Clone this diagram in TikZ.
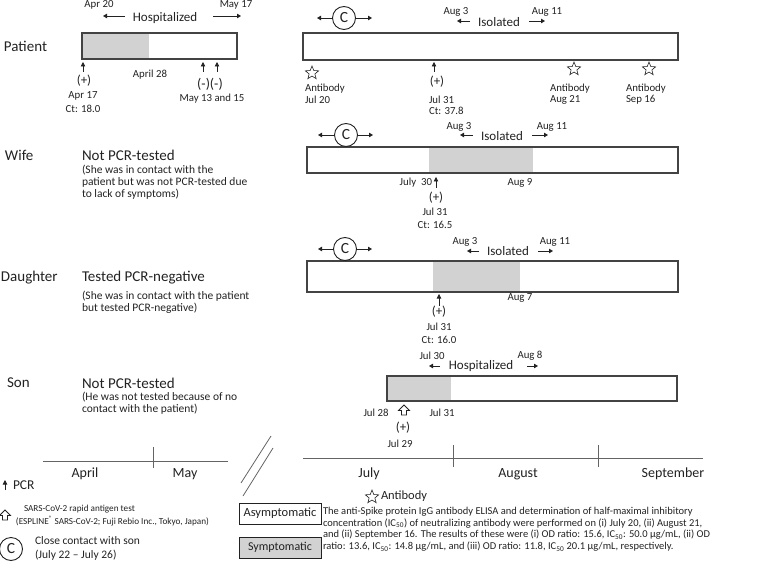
\documentclass[tikz,border=0pt]{standalone}
\usepackage{fontspec}
\setmainfont{Carlito}
\usetikzlibrary{arrows.meta,shapes.geometric}
\definecolor{ink}{HTML}{222222}
\definecolor{gfill}{HTML}{D2D2D2}
\begin{document}
\begin{tikzpicture}[x=1pt,y=-1pt,
 every node/.style={inner sep=0pt, outer sep=0pt, text=ink},
 big/.style={font=\fontsize{15}{17}\selectfont},
 mid/.style={font=\fontsize{13}{15}\selectfont},
 mon/.style={font=\fontsize{14}{15}\selectfont},
 sml/.style={font=\fontsize{10.8}{12}\selectfont},
 note/.style={font=\fontsize{11.5}{11.8}\selectfont, align=left, anchor=north west},
 bar/.style={draw=ink!85, line width=1.1pt},
 arr/.style={-{Triangle[length=4pt,width=4.5pt]}, line width=0.9pt, draw=ink},
 pcr/.style={-{Triangle[length=4.5pt,width=4.5pt]}, line width=0.8pt, draw=ink},
 cc/.style={circle, draw=ink, line width=0.9pt, minimum size=23pt, font=\fontsize{15.5}{15.5}\selectfont},
 star5/.style={star, star points=5, star point ratio=2.3, draw=ink, line width=0.6pt, minimum size=14pt},
 axis/.style={draw=ink!70, line width=0.8pt},
 hollow/.style={draw=ink, line width=0.8pt, fill=white, line join=miter}]
\useasboundingbox (0,0) rectangle (762,561);

% ---------------- Patient ----------------
\node[big, anchor=west] (patient) at (4,46) {Patient};
\fill[gfill] (82,33) rectangle (149,59);
\draw[bar] (82,33) rectangle (237,59);
\node[sml] (apr20) at (99,5) {Apr 20};
\node[mid] (hosp1) at (165,18) {Hospitalized};
\node[sml] (may17) at (236,5) {May 17};
\coordinate (h1a) at (125,16); \coordinate (h1b) at (103,16);
\coordinate (h1c) at (213,16); \coordinate (h1d) at (241,16);
\draw[arr] (h1a) -- (h1b);
\draw[arr] (h1c) -- (h1d);
\coordinate (p1a) at (83,72); \coordinate (p1b) at (83,62);
\draw[pcr] (p1a) -- (p1b);
\node[mid] (pplus1) at (84,81) {(+)};
\node[sml] (apr17) at (83,96) {Apr 17};
\node[sml] (ct18) at (83,109) {Ct: 18.0};
\node[sml] (apr28) at (150,75) {April 28};
\coordinate (p2a) at (203,72); \coordinate (p2b) at (203,62);
\coordinate (p3a) at (217,72); \coordinate (p3b) at (217,62);
\draw[pcr] (p2a) -- (p2b);
\draw[pcr] (p3a) -- (p3b);
\node[font=\fontsize{14}{15}\selectfont] (minus) at (210,84) {(-)(-)};
\node[sml] (may13) at (212,99) {May 13 and 15};

\draw[bar] (303,33) rectangle (678,60);
\node[cc] (c1) at (344,18) {C};
\coordinate (c1l) at (317,18); \coordinate (c1r) at (372,18);
\draw[arr] (c1.west) -- (c1l);
\draw[arr] (c1.east) -- (c1r);
\node[sml] (aug3a) at (456,12) {Aug 3};
\node[mid] (iso1) at (499,22) {Isolated};
\node[sml] (aug11a) at (547,12) {Aug 11};
\coordinate (i1a) at (470,21); \coordinate (i1b) at (457,21);
\coordinate (i1c) at (529,21); \coordinate (i1d) at (545,21);
\draw[arr] (i1a) -- (i1b);
\draw[arr] (i1c) -- (i1d);
\node[star5] (s1) at (312,73) {};
\node[sml, anchor=west] (ab1) at (305,89) {Antibody};
\node[sml, anchor=west] (jul20) at (305,100) {Jul 20};
\node[star5] (s2) at (574,69) {};
\node[sml, anchor=west] (ab2) at (550,89) {Antibody};
\node[sml, anchor=west] (aug21) at (550,100) {Aug 21};
\node[star5] (s3) at (649,69) {};
\node[sml, anchor=west] (ab3) at (626,89) {Antibody};
\node[sml, anchor=west] (sep16) at (626,100) {Sep 16};
\coordinate (p4a) at (434,72); \coordinate (p4b) at (434,62);
\draw[pcr] (p4a) -- (p4b);
\node[mid] (pplus2) at (437,82) {(+)};
\node[sml, anchor=west] (jul31a) at (429,100) {Jul 31};
\node[sml, anchor=west] (ct378) at (429,111) {Ct: 37.8};

% ---------------- Wife ----------------
\node[big, anchor=west] (wife) at (5,155) {Wife};
\node[big, anchor=west] (wifet) at (82,155) {Not PCR-tested};
\node[note] (wifen) at (82,165) {(She was in contact with the\\patient but was not PCR-tested due\\to lack of symptoms)};
\fill[gfill] (429,147) rectangle (533,173);
\draw[bar] (307,147) rectangle (678,173);
\node[cc] (c2) at (346,135) {C};
\coordinate (c2l) at (318,135); \coordinate (c2r) at (373,135);
\draw[arr] (c2.west) -- (c2l);
\draw[arr] (c2.east) -- (c2r);
\node[sml] (aug3b) at (459,127) {Aug 3};
\node[mid] (iso2) at (502,136) {Isolated};
\node[sml] (aug11b) at (552,127) {Aug 11};
\coordinate (i2a) at (473,135); \coordinate (i2b) at (460,135);
\coordinate (i2c) at (532,135); \coordinate (i2d) at (548,135);
\draw[arr] (i2a) -- (i2b);
\draw[arr] (i2c) -- (i2d);
\node[sml, anchor=east] (jul30a) at (432,183) {July\ \ 30};
\coordinate (p5a) at (436,188); \coordinate (p5b) at (436,177);
\draw[pcr] (p5a) -- (p5b);
\node[mid] (pplus3) at (436,198) {(+)};
\node[sml] (jul31b) at (435,212) {Jul 31};
\node[sml] (ct165) at (435,225) {Ct: 16.5};
\node[sml] (aug9) at (520,183) {Aug 9};

% ---------------- Daughter ----------------
\node[big, anchor=west] (daughter) at (1,278) {Daughter};
\node[big, anchor=west] (dat) at (82,278) {Tested PCR-negative};
\node[note] (datn) at (82,291) {(She was in contact with the patient\\but tested PCR-negative)};
\fill[gfill] (433,261) rectangle (520,292);
\draw[bar] (307,261) rectangle (678,292);
\node[cc] (c3) at (345,249) {C};
\coordinate (c3l) at (318,249); \coordinate (c3r) at (372,249);
\draw[arr] (c3.west) -- (c3l);
\draw[arr] (c3.east) -- (c3r);
\node[sml] (aug3c) at (465,242) {Aug 3};
\node[mid] (iso3) at (508,251) {Isolated};
\node[sml] (aug11c) at (555,242) {Aug 11};
\coordinate (i3a) at (479,251); \coordinate (i3b) at (467,251);
\coordinate (i3c) at (538,251); \coordinate (i3d) at (553,251);
\draw[arr] (i3a) -- (i3b);
\draw[arr] (i3c) -- (i3d);
\node[sml] (aug7) at (520,298) {Aug 7};
\coordinate (p6a) at (439,306); \coordinate (p6b) at (439,294);
\draw[pcr] (p6a) -- (p6b);
\node[mid] (pplus4) at (439,312) {(+)};
\node[sml] (jul31c) at (439,327) {Jul 31};
\node[sml] (ct160) at (439,340) {Ct: 16.0};

% ---------------- Son ----------------
\node[big, anchor=west] (son) at (7,383) {Son};
\node[big, anchor=west] (sont) at (82,383) {Not PCR-tested};
\node[note] (sonn) at (82,392) {(He was not tested because of no\\contact with the patient)};
\fill[gfill] (387,376) rectangle (451,401);
\draw[bar] (387,376) rectangle (677,401);
\node[sml] (jul30b) at (432,356) {Jul 30};
\node[mid] (hosp2) at (481,366) {Hospitalized};
\node[sml] (aug8) at (530,356) {Aug 8};
\coordinate (h2a) at (440,366); \coordinate (h2b) at (429,366);
\coordinate (h2c) at (527,366); \coordinate (h2d) at (538,366);
\draw[arr] (h2a) -- (h2b);
\draw[arr] (h2c) -- (h2d);
\node[sml] (jul28) at (376,413) {Jul 28};
\node[sml] (jul31d) at (442,413) {Jul 31};
\draw[hollow] (404,405) -- (409.5,410.5) -- (406.5,410.5) -- (406.5,415) -- (401.5,415) -- (401.5,410.5) -- (398.5,410.5) -- cycle;
\node[mid] (pplus5) at (403,428) {(+)};
\node[sml] (jul29) at (400,444) {Jul 29};

% ---------------- Axes ----------------
\draw[axis] (43,461) -- (228,461);
\draw[axis] (153,447) -- (153,468);
\node[mon] (april) at (85,474) {April};
\node[mon] (may) at (185,474) {May};
\draw[axis] (241,483) -- (271,436);
\draw[axis] (243,496) -- (273,448);
\draw[axis] (303,458) -- (703,458);
\draw[axis] (453,445) -- (453,467);
\draw[axis] (598,445) -- (598,467);
\node[mon] (july) at (369,474) {July};
\node[mon] (august) at (518,474) {August};
\node[mon] (september) at (673,474) {September};

% ---------------- Legend ----------------
\coordinate (lpa) at (5,490); \coordinate (lpb) at (5,480);
\draw[pcr] (lpa) -- (lpb);
\node[font=\fontsize{13.5}{15}\selectfont, anchor=west] (lpcr) at (13,485) {PCR};
\draw[hollow] (5,510) -- (10.5,515.5) -- (7.5,515.5) -- (7.5,520) -- (2.5,520) -- (2.5,515.5) -- (-0.5,515.5) -- cycle;
\node[font=\fontsize{9.2}{10}\selectfont, anchor=west] (sars) at (24,509) {SARS-CoV-2 rapid antigen test};
\node[font=\fontsize{9.2}{10}\selectfont, anchor=west] (espl) at (16,521) {(ESPLINE\textsuperscript{®} SARS-CoV-2; Fuji Rebio Inc., Tokyo, Japan)};
\node[cc] (lc) at (11,549) {C};
\node[font=\fontsize{11.5}{12}\selectfont, anchor=west] (close) at (35,541) {Close contact with son};
\node[font=\fontsize{11.5}{12}\selectfont, anchor=west] (closed) at (35,555) {(July 22 – July 26)};
\node[draw=ink, line width=0.9pt, minimum width=82pt, minimum height=21pt, anchor=north west, font=\fontsize{12.5}{12.5}\selectfont] (asym) at (239,503) {Asymptomatic};
\node[draw=ink, fill=gfill, line width=0.9pt, minimum width=82pt, minimum height=21pt, anchor=north west, font=\fontsize{12}{12}\selectfont] (symp) at (239,537) {Symptomatic};
\node[star5] (ls) at (372,497) {};
\node[font=\fontsize{12.5}{13}\selectfont, anchor=west] (lab) at (381,496) {Antibody};
\node[font=\fontsize{10.5}{11.8}\selectfont, align=left, anchor=north west] (para) at (323,507) {The anti-Spike protein IgG antibody ELISA and determination of half-maximal inhibitory\\concentration (IC\textsubscript{50}) of neutralizing antibody were performed on (i) July 20, (ii) August 21,\\and (ii) September 16. The results of these were (i) OD ratio: 15.6, IC\textsubscript{50}: 50.0 µg/mL, (ii) OD\\ratio: 13.6, IC\textsubscript{50}: 14.8 µg/mL, and (iii) OD ratio: 11.8, IC\textsubscript{50} 20.1 µg/mL, respectively.};
\end{tikzpicture}
\end{document}
